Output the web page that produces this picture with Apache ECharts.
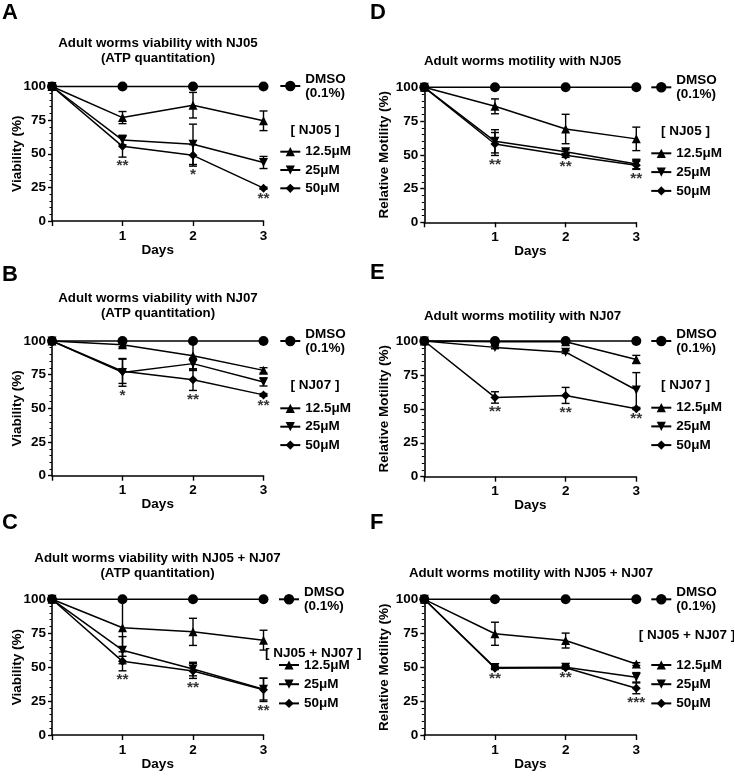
<!DOCTYPE html>
<html><head><meta charset="utf-8">
<script src="https://cdn.jsdelivr.net/npm/echarts@6/dist/echarts.min.js"></script>
<style>html,body{margin:0;padding:0;background:#fff}#c{width:734px;height:772px}</style>
</head><body><div id="c"></div>
<script>
// ---------- DATA ----------
const days = [0, 1, 2, 3];
const dayTickLabels = ['', '1', '2', '3'];
const yTicks = [0, 25, 50, 75, 100];
const legendNames = ['DMSO\n(0.1%)', '12.5μM', '25μM', '50μM'];

// Panel A: viability NJ05
const A_dmso = [100, 100, 100, 100];
const A_125 = [100, 76.9, 86.1, 74.5];
const A_125_err = [0, 4.5, 9.5, 7.3];
const A_25 = [100, 60.2, 57.0, 43.5];
const A_25_err = [0, 3.5, 15, 4.5];
const A_50 = [100, 55.5, 48.8, 24.4];
const A_50_err = [0, 8, 8, 0.8];
const A_stars = ['**', '*', '**'];

// Panel B: viability NJ07
const B_dmso = [100, 100, 100, 100];
const B_125 = [100, 97.2, 89.1, 78.2];
const B_125_err = [0, 1.5, 11, 2];
const B_25 = [100, 76.7, 83.2, 69.6];
const B_25_err = [0, 10.3, 4, 3];
const B_50 = [100, 77.5, 71.3, 60.0];
const B_50_err = [0, 9, 8, 1];
const B_stars = ['*', '**', '**'];

// Panel C: viability NJ05 + NJ07
const C_dmso = [100, 100, 100, 100];
const C_125 = [100, 79.0, 76.0, 69.9];
const C_125_err = [0, 21, 10, 7.3];
const C_25 = [100, 62.5, 48.6, 33.8];
const C_25_err = [0, 10, 5, 8];
const C_50 = [100, 54.3, 47.2, 33.3];
const C_50_err = [0, 7, 5.5, 8.6];
const C_stars = ['**', '**', '**'];

// Panel D: motility NJ05
const D_dmso = [100, 100, 100, 100];
const D_125 = [100, 85.9, 69.1, 61.8];
const D_125_err = [0, 5.5, 10.9, 8.7];
const D_25 = [100, 60.0, 52.3, 43.2];
const D_25_err = [0, 8.6, 1.5, 3.5];
const D_50 = [100, 58.0, 49.6, 42.2];
const D_50_err = [0, 8.5, 1.5, 3];
const D_stars = ['**', '**', '**'];

// Panel E: motility NJ07
const E_dmso = [100, 100, 100, 100];
const E_125 = [100, 99.5, 99.5, 86.4];
const E_125_err = [0, 1, 1, 3];
const E_25 = [100, 95.3, 91.8, 63.9];
const E_25_err = [0, 1, 1, 12.8];
const E_50 = [100, 58.4, 59.9, 50.0];
const E_50_err = [0, 4.2, 5.9, 0.5];
const E_stars = ['**', '**', '**'];

// Panel F: motility NJ05 + NJ07
const F_dmso = [100, 100, 100, 100];
const F_125 = [100, 74.6, 69.6, 52.3];
const F_125_err = [0, 8.5, 5.5, 1];
const F_25 = [100, 49.8, 50.0, 42.5];
const F_25_err = [0, 1, 1, 3.5];
const F_50 = [100, 49.2, 49.6, 34.4];
const F_50_err = [0, 1, 1, 4];
const F_stars = ['**', '**', '***'];

// ---------- LAYOUT / STYLE ----------
const FONT = '"Liberation Sans", Arial, Helvetica, sans-serif';
const INV_TRI = 'path://M0,0 L10,0 L5,9 Z';

const panels = [
  {letter:'A', lx:2, ly:13, title:'Adult worms viability with NJ05\n(ATP quantitation)', tx:158, ty:50.5,
   grid:{left:52, top:86.5, width:211.5, height:134.5}, yName:'Viability (%)', yGap:28,
   header:'[ NJ05 ]', hx:315, hy:130, mx:289.3, dy:86, iy:151.7, step:18.3,
   d:[A_dmso, A_125, A_25, A_50], e:[A_125_err, A_25_err, A_50_err], stars:A_stars},
  {letter:'D', lx:370, ly:13, title:'Adult worms motility with NJ05', tx:522.6, ty:61,
   grid:{left:424.3, top:87.3, width:212, height:135}, yName:'Relative Motility (%)', yGap:33,
   header:'[ NJ05 ]', hx:685.5, hy:131.7, mx:660.3, dy:87.3, iy:153.3, step:18.8,
   d:[D_dmso, D_125, D_25, D_50], e:[D_125_err, D_25_err, D_50_err], stars:D_stars},
  {letter:'B', lx:2, ly:275, title:'Adult worms viability with NJ07\n(ATP quantitation)', tx:158, ty:305.5,
   grid:{left:52, top:341, width:211.5, height:134.7}, yName:'Viability (%)', yGap:28,
   header:'[ NJ07 ]', hx:315, hy:385, mx:289.3, dy:341, iy:408.3, step:18.4,
   d:[B_dmso, B_125, B_25, B_50], e:[B_125_err, B_25_err, B_50_err], stars:B_stars},
  {letter:'E', lx:370, ly:273, title:'Adult worms motility with NJ07', tx:522.6, ty:316,
   grid:{left:424.3, top:341, width:212, height:135.7}, yName:'Relative Motility (%)', yGap:33,
   header:'[ NJ07 ]', hx:685.5, hy:385.7, mx:660.3, dy:341, iy:407.7, step:18.7,
   d:[E_dmso, E_125, E_25, E_50], e:[E_125_err, E_25_err, E_50_err], stars:E_stars},
  {letter:'C', lx:2, ly:523, title:'Adult worms viability with NJ05 + NJ07\n(ATP quantitation)', tx:157.5, ty:566,
   grid:{left:52, top:599.3, width:211.5, height:136.7}, yName:'Viability (%)', yGap:28,
   header:'[ NJ05 + NJ07 ]', hx:313.3, hy:653.3, mx:288, dy:599.3, iy:665, step:19.2,
   d:[C_dmso, C_125, C_25, C_50], e:[C_125_err, C_25_err, C_50_err], stars:C_stars},
  {letter:'F', lx:370, ly:523, title:'Adult worms motility with NJ05 + NJ07', tx:531, ty:573.3,
   grid:{left:424.3, top:599.3, width:212, height:136}, yName:'Relative Motility (%)', yGap:33,
   header:'[ NJ05 + NJ07 ]', hx:687, hy:635, mx:660.3, dy:599.3, iy:665, step:19.2,
   d:[F_dmso, F_125, F_25, F_50], e:[F_125_err, F_25_err, F_50_err], stars:F_stars}
];

const symbols = ['circle', 'triangle', INV_TRI, 'diamond'];
const symbolSizes = [10, 9, 9, 9];

function errRender(params, api) {
  const x = api.value(0), y = api.value(1), e = api.value(2);
  if (!e) return null;
  const t = api.coord([x, y + e]);
  const b = api.coord([x, y - e]);
  const hw = 4;
  const st = {stroke:'#000', lineWidth:1.4};
  return {type:'group', children:[
    {type:'line', shape:{x1:t[0], y1:t[1], x2:b[0], y2:b[1]}, style:st},
    {type:'line', shape:{x1:t[0]-hw, y1:t[1], x2:t[0]+hw, y2:t[1]}, style:st},
    {type:'line', shape:{x1:b[0]-hw, y1:b[1], x2:b[0]+hw, y2:b[1]}, style:st}
  ]};
}

const option = {
  animation:false,
  backgroundColor:'#fff',
  textStyle:{fontFamily:FONT},
  grid:[], xAxis:[], yAxis:[], series:[], legend:[], graphic:[]
};

panels.forEach((p, i) => {
  option.grid.push(Object.assign({}, p.grid));
  option.xAxis.push({
    gridIndex:i, type:'value', min:0, max:3, interval:1,
    name:'Days', nameLocation:'middle', nameGap:22, nameMoveOverlap:false,
    nameTextStyle:{fontFamily:FONT, fontWeight:'bold', fontSize:13.5, color:'#000'},
    axisLine:{show:true, onZero:false, lineStyle:{color:'#000', width:1.6}},
    axisTick:{show:true, inside:false, length:5, lineStyle:{color:'#000', width:1.4}},
    axisLabel:{margin:8, fontFamily:FONT, fontWeight:'bold', fontSize:13.5, color:'#000',
      formatter:v => dayTickLabels[days.indexOf(v)] || ''},
    splitLine:{show:false}
  });
  option.yAxis.push({
    gridIndex:i, type:'value', min:0, max:100, interval:25,
    name:p.yName, nameLocation:'middle', nameGap:p.yGap, nameMoveOverlap:false,
    nameTextStyle:{fontFamily:FONT, fontWeight:'bold', fontSize:13.5, color:'#000'},
    axisLine:{show:true, onZero:false, lineStyle:{color:'#000', width:1.6}},
    axisTick:{show:true, inside:false, length:4, lineStyle:{color:'#000', width:1.4}},
    minorTick:{show:true, splitNumber:5, length:2.5, lineStyle:{color:'#000', width:1}},
    axisLabel:{margin:6, fontFamily:FONT, fontWeight:'bold', fontSize:13.5, color:'#000',
      formatter:v => yTicks.indexOf(v) >= 0 ? String(v) : ''},
    splitLine:{show:false}
  });

  // lines
  p.d.forEach((arr, k) => {
    option.series.push({
      type:'line', name:legendNames[k], xAxisIndex:i, yAxisIndex:i,
      data:days.map((dd, j) => [dd, arr[j]]),
      symbol:symbols[k], symbolSize:symbolSizes[k], showSymbol:true,
      lineStyle:{color:'#000', width:1.5}, itemStyle:{color:'#000', borderWidth:0},
      clip:false, z:3 + (k === 0 ? 0 : 1)
    });
  });
  // error bars
  p.e.forEach((errArr, k) => {
    const vals = p.d[k + 1];
    option.series.push({
      type:'custom', xAxisIndex:i, yAxisIndex:i, renderItem:errRender, clip:false,
      encode:{x:0, y:1}, z:2,
      data:days.map((dd, j) => [dd, vals[j], errArr[j]])
    });
  });
  // significance stars, placed under the lowest error-bar end of each day
  option.series.push({
    type:'scatter', xAxisIndex:i, yAxisIndex:i, symbolSize:0, clip:false, z:5,
    data:p.stars.map((s, j) => {
      const dj = j + 1;
      let low = 100;
      for (let k = 0; k < 3; k++) low = Math.min(low, p.d[k + 1][dj] - p.e[k][dj]);
      return {name:s, value:[days[dj], low]};
    }),
    label:{show:true, position:'bottom', distance:1, formatter:'{b}',
      fontFamily:FONT, fontWeight:'bold', fontSize:15.5, color:'#000'}
  });

  // legends
  option.legend.push({
    orient:'vertical', left:p.mx - 10, top:p.dy - 14, padding:0,
    itemWidth:20, itemHeight:13,
    data:[legendNames[0]], selectedMode:false,
    textStyle:{fontFamily:FONT, fontWeight:'bold', fontSize:13.5, color:'#000', lineHeight:14}
  });
  option.legend.push({
    orient:'vertical', left:p.mx - 10, top:p.iy - 7, padding:0,
    itemWidth:20, itemHeight:11.5, itemGap:p.step - 14,
    data:legendNames.slice(1), selectedMode:false,
    textStyle:{fontFamily:FONT, fontWeight:'bold', fontSize:13.5, color:'#000', lineHeight:14}
  });

  // texts
  option.graphic.push({type:'text', left:p.lx, top:p.ly - 11,
    style:{text:p.letter, font:'bold 22px ' + FONT, fill:'#000'}});
  option.graphic.push({type:'text', x:p.tx, y:p.ty,
    style:{text:p.title, font:'bold 13.3px ' + FONT, fill:'#000', textAlign:'center',
      textVerticalAlign:'middle', lineHeight:15}});
  option.graphic.push({type:'text', x:p.hx, y:p.hy,
    style:{text:p.header, font:'bold 13.5px ' + FONT, fill:'#000', textAlign:'center',
      textVerticalAlign:'middle'}});
});

const chart = echarts.init(document.getElementById('c'), null, {renderer:'canvas'});
chart.setOption(option);
</script>
</body></html>
